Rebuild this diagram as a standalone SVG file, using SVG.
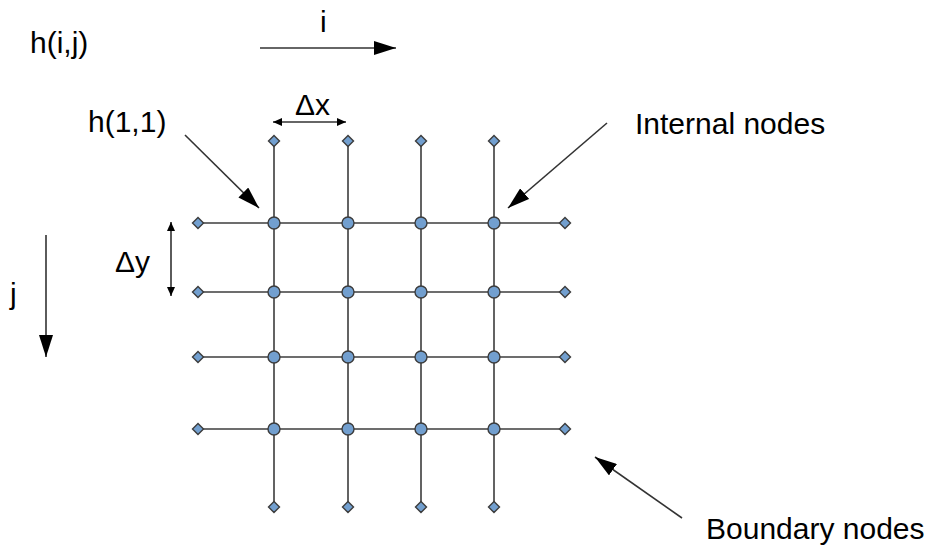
<svg xmlns="http://www.w3.org/2000/svg" width="931" height="547" viewBox="0 0 931 547">
<style>
text{font-family:"Liberation Sans",Arial,sans-serif;fill:#000;font-size:30px}
.g{stroke:#3c3c3c;stroke-width:1.6;fill:none}
.a{stroke:#333;stroke-width:1.6;fill:none}
.n{fill:#729fcf;stroke:#3c3c3c;stroke-width:1.4}
</style>
<defs>
<marker id="big" markerUnits="userSpaceOnUse" markerWidth="22" markerHeight="14" refX="22" refY="7" orient="auto"><path d="M0,0 L22,7 L0,14 z" fill="#000"/></marker>
<marker id="sm" markerUnits="userSpaceOnUse" markerWidth="9" markerHeight="8" refX="9" refY="4" orient="auto-start-reverse"><path d="M0,0 L9,4 L0,8 z" fill="#000"/></marker>
<path id="dm" d="M0,-5.5 L5.5,0 L0,5.5 L-5.5,0 z"/>
</defs>
<rect width="931" height="547" fill="#fff"/>
<g id="grid-lines" class="g">
<line x1="198" y1="223" x2="565" y2="223"/>
<line x1="198" y1="292" x2="565" y2="292"/>
<line x1="198" y1="357" x2="565" y2="357"/>
<line x1="198" y1="429" x2="565" y2="429"/>
<line x1="274" y1="141" x2="274" y2="507"/>
<line x1="348" y1="141" x2="348" y2="507"/>
<line x1="421" y1="141" x2="421" y2="507"/>
<line x1="494" y1="141" x2="494" y2="507"/>
</g>
<g id="connectors" class="a">
<line x1="260" y1="48" x2="396" y2="48" marker-end="url(#big)"/>
<line x1="46" y1="235" x2="46" y2="357" marker-end="url(#big)"/>
<line x1="185" y1="135" x2="259" y2="208" marker-end="url(#big)"/>
<line x1="607" y1="123" x2="508" y2="208" marker-end="url(#big)"/>
<line x1="682" y1="518" x2="595" y2="457" marker-end="url(#big)"/>
<line x1="273" y1="122" x2="346" y2="122" marker-start="url(#sm)" marker-end="url(#sm)"/>
<line x1="171" y1="222" x2="171" y2="296" marker-start="url(#sm)" marker-end="url(#sm)"/>
</g>
<g id="internal-nodes" class="n">
<circle cx="274" cy="223" r="6"/><circle cx="348" cy="223" r="6"/><circle cx="421" cy="223" r="6"/><circle cx="494" cy="223" r="6"/>
<circle cx="274" cy="292" r="6"/><circle cx="348" cy="292" r="6"/><circle cx="421" cy="292" r="6"/><circle cx="494" cy="292" r="6"/>
<circle cx="274" cy="357" r="6"/><circle cx="348" cy="357" r="6"/><circle cx="421" cy="357" r="6"/><circle cx="494" cy="357" r="6"/>
<circle cx="274" cy="429" r="6"/><circle cx="348" cy="429" r="6"/><circle cx="421" cy="429" r="6"/><circle cx="494" cy="429" r="6"/>
</g>
<g id="boundary-nodes" class="n">
<use href="#dm" x="274" y="141"/><use href="#dm" x="348" y="141"/><use href="#dm" x="421" y="141"/><use href="#dm" x="494" y="141"/>
<use href="#dm" x="274" y="507"/><use href="#dm" x="348" y="507"/><use href="#dm" x="421" y="507"/><use href="#dm" x="494" y="507"/>
<use href="#dm" x="198" y="223"/><use href="#dm" x="198" y="292"/><use href="#dm" x="198" y="357"/><use href="#dm" x="198" y="429"/>
<use href="#dm" x="565" y="223"/><use href="#dm" x="565" y="292"/><use href="#dm" x="565" y="357"/><use href="#dm" x="565" y="429"/>
</g>
<g id="labels">
<text x="30" y="53">h(i,j)</text>
<text x="320" y="32">i</text>
<text x="10" y="304">j</text>
<text x="88" y="132">h(1,1)</text>
<text x="295" y="115">Δx</text>
<text x="115" y="272">Δy</text>
<text x="635" y="134">Internal nodes</text>
<text x="706" y="539">Boundary nodes</text>
</g>
</svg>
